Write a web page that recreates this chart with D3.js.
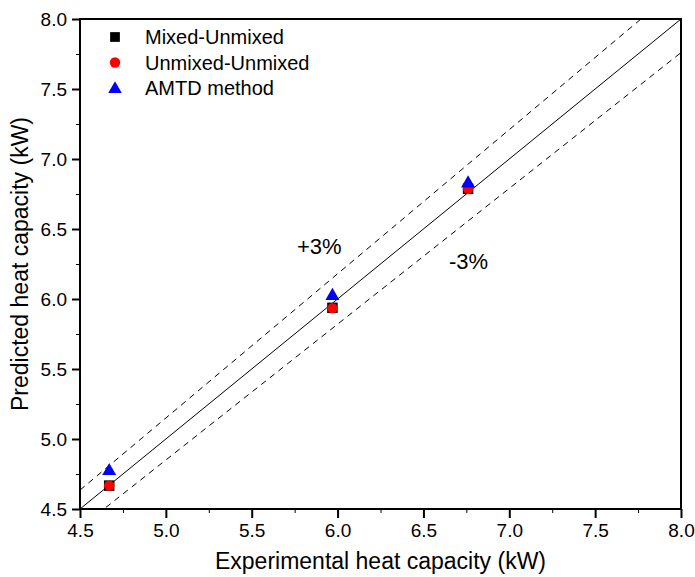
<!DOCTYPE html>
<html>
<head>
<meta charset="utf-8">
<script src="https://cdn.jsdelivr.net/npm/d3@7"></script>
<style>
  body { margin: 0; background: #fff; }
  svg { font-family: "Liberation Sans", Arial, sans-serif; }
  .axis path, .axis line { stroke: #000; }
  .axis text { font-size: 19px; fill: #000; }
</style>
</head>
<body>
<div id="chart"></div>
<script>
// values
var experimental = [4.67, 5.97, 6.76];
var mixedUnmixed = [4.667, 5.937, 6.787];
var unmixedUnmixed = [4.667, 5.935, 6.787];
var amtdMethod = [4.771, 6.022, 6.826];
var xTicks = [4.5, 5.0, 5.5, 6.0, 6.5, 7.0, 7.5, 8.0];
var yTicks = [4.5, 5.0, 5.5, 6.0, 6.5, 7.0, 7.5, 8.0];
var seriesNames = ["Mixed-Unmixed", "Unmixed-Unmixed", "AMTD method"];
var bandPct = 0.03;

var margin = {top: 19, right: 14, bottom: 68, left: 80},
    W = 695, H = 577,
    width = W - margin.left - margin.right,
    height = H - margin.top - margin.bottom;

var svg = d3.select("#chart").append("svg")
    .attr("width", W).attr("height", H);
var g = svg.append("g")
    .attr("transform", "translate(" + margin.left + "," + margin.top + ")");

var x = d3.scaleLinear().domain([4.5, 8.0]).range([0, width]);
var y = d3.scaleLinear().domain([4.5, 8.0]).range([height, 0]);

svg.append("defs").append("clipPath").attr("id", "clip")
  .append("rect").attr("width", width).attr("height", height);

// reference lines y = x, +3%, -3%
var line = d3.line().x(function(d) { return x(d[0]); }).y(function(d) { return y(d[1]); });
var lines = g.append("g").attr("clip-path", "url(#clip)");
[[1, null], [1 + bandPct, "6,5"], [1 - bandPct, "6,5"]].forEach(function(s) {
  lines.append("path")
    .datum([[4.5, 4.5 * s[0]], [8.0, 8.0 * s[0]]])
    .attr("d", line)
    .attr("fill", "none")
    .attr("stroke", "#000")
    .attr("stroke-width", 1)
    .attr("stroke-dasharray", s[1]);
});

// minor ticks
var minor = d3.range(4.75, 8.0, 0.5);
g.append("g").attr("class", "axis")
  .attr("transform", "translate(0," + height + ")")
  .call(d3.axisBottom(x).tickValues(minor).tickSize(4).tickFormat(""))
  .select(".domain").remove();
g.append("g").attr("class", "axis")
  .call(d3.axisLeft(y).tickValues(minor).tickSize(4).tickFormat(""))
  .select(".domain").remove();

// major axes
var xa = g.append("g").attr("class", "axis")
  .attr("transform", "translate(0," + height + ")")
  .call(d3.axisBottom(x).tickValues(xTicks).tickSize(9).tickPadding(6).tickFormat(d3.format(".1f")));
var ya = g.append("g").attr("class", "axis")
  .call(d3.axisLeft(y).tickValues(yTicks).tickSize(8).tickPadding(5).tickFormat(d3.format(".1f")));
xa.selectAll("line").attr("stroke-width", 2);
ya.selectAll("line").attr("stroke-width", 2);
xa.select(".domain").remove();
ya.select(".domain").remove();

// frame
g.append("rect")
  .attr("width", width).attr("height", height)
  .attr("fill", "none").attr("stroke", "#000").attr("stroke-width", 2);

// points
var sq = d3.symbol().type(d3.symbolSquare).size(110);
var ci = d3.symbol().type(d3.symbolCircle).size(85);
var tri = d3.symbol().type(d3.symbolTriangle).size(85);

var pts = g.append("g");
pts.selectAll(".sq").data(experimental).enter().append("path")
  .attr("d", sq)
  .attr("transform", function(d, i) { return "translate(" + x(d) + "," + y(mixedUnmixed[i]) + ")"; })
  .attr("fill", "#000");
pts.selectAll(".ci").data(experimental).enter().append("path")
  .attr("d", ci)
  .attr("transform", function(d, i) { return "translate(" + x(d) + "," + y(unmixedUnmixed[i]) + ")"; })
  .attr("fill", "#ff0000");
pts.selectAll(".tri").data(experimental).enter().append("path")
  .attr("d", tri)
  .attr("transform", function(d, i) { return "translate(" + x(d) + "," + y(amtdMethod[i]) + ")"; })
  .attr("fill", "#0000ff");

// band labels
g.append("text").attr("x", 217).attr("y", 235)
  .attr("font-size", 22).text("+3%");
g.append("text").attr("x", 369).attr("y", 250)
  .attr("font-size", 22).text("-3%");

// legend
var legSyms = [
  {sym: d3.symbol().type(d3.symbolSquare).size(95), col: "#000"},
  {sym: d3.symbol().type(d3.symbolCircle).size(85), col: "#ff0000"},
  {sym: d3.symbol().type(d3.symbolTriangle).size(80), col: "#0000ff"}
];
var leg = g.append("g").attr("transform", "translate(35,18)");
seriesNames.forEach(function(name, i) {
  var row = leg.append("g").attr("transform", "translate(0," + (i * 25.5) + ")");
  row.append("path").attr("d", legSyms[i].sym).attr("fill", legSyms[i].col)
    .attr("transform", i == 2 ? "translate(0,1)" : null);
  row.append("text").attr("x", 30).attr("y", 7)
    .attr("font-size", 20).text(name);
});

// axis titles
svg.append("text")
  .attr("x", margin.left + width / 2).attr("y", 569)
  .attr("text-anchor", "middle").attr("font-size", 23)
  .text("Experimental heat capacity (kW)");
svg.append("text")
  .attr("transform", "translate(28," + (margin.top + height / 2) + ") rotate(-90)")
  .attr("text-anchor", "middle").attr("font-size", 23)
  .text("Predicted heat capacity (kW)");
</script>
</body>
</html>
